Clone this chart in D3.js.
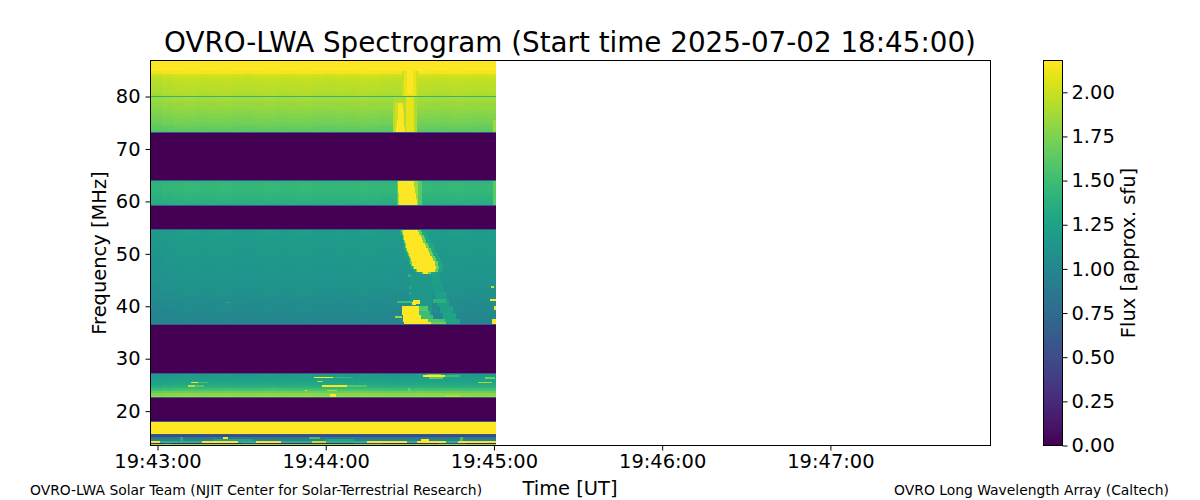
<!DOCTYPE html>
<html><head><meta charset="utf-8">
<script src="https://cdn.jsdelivr.net/npm/d3@7/dist/d3.min.js"></script>
<style>html,body{margin:0;background:#fff}svg{display:block}text{font-family:"DejaVu Sans";fill:#000}
.domain{display:none}</style></head><body><svg id="c" width="1200" height="500"></svg>
<script>
// ---------- data (MHz, seconds after 19:43:00, flux in sfu) ----------
const titleText = "OVRO-LWA Spectrogram (Start time 2025-07-02 18:45:00)";
const xTickSeconds = [0, 60, 120, 180, 240];
const xTickLabels = ["19:43:00","19:44:00","19:45:00","19:46:00","19:47:00"];
const yTicks = [20,30,40,50,60,70,80];
const cbTicks = [0,0.25,0.5,0.75,1,1.25,1.5,1.75,2];
const timeRange = [-2.5, 297.1];
const freqRange = [13.45, 86.87];
const imageTimeEnd = 120.7;
const fluxMax = 2.18;

// [top MHz, bottom MHz, flux per row from top to bottom]
const bandA = [86.87, 73.13, [2.2,2.2,2.2,2.2,2.14,2.03,1.99,1.97,1.96,1.95,1.94,1.93,1.91,1.89,1.88,1.86,1.84,1.83,1.81,1.79,1.77,1.75,1.73,1.71,1.68,1.65,1.62]];
const bandB = [63.97, 59.29, [1.42,1.44,1.45,1.45,1.44,1.42,1.41,1.4,1.38,1.36]];
const bandC = [54.62, 36.5, [1.2,1.2,1.19,1.19,1.18,1.18,1.17,1.17,1.16,1.16,1.15,1.15,1.14,1.14,1.13,1.13,1.12,1.11,1.1,1.09,1.08,1.07,1.06,1.05,1.04,1.03,1.02,1.01,1,0.99]];
const bandLow = [27.2, 22.6, [1.2,1.2,1.22,1.24,1.27,1.3,1.36,1.45,1.55,1.68,1.8,1.88]];
const bandYellow = [18.0, 15.63, [2.2]];
const bandBottom = [
  [15.63,14.98,0.48],[14.98,14.64,0.88],[14.64,14.35,0.98],[14.35,14.02,1.4],[14.02,13.74,0.22],[13.74,13.45,1.85]
];
// slow changes of the quiet sun through the 30 time columns
const timeTrim = [-.03,-.01,.005,.01,0,.005,.01,0,-.005,.005,.01,0,.005,.01,0,-.005,.005,0,.01,.005,-.005,-.01,-.005,.01,.005,0,.01,.005,0,.005];
// narrow RFI line and band edges
const rfiLine = [[80.18,79.98,1.42]];
const bandEdges = [73.13,63.97,59.29,54.62,36.5,27.2,22.6,18.0,15.63];

// patches: [top MHz, bottom MHz, t start, t end, flux]
const burstHigh = [
 [84.9,80.1,87.3,93,2.0],[84.9,80.1,88,92.2,2.1],[85.2,80.5,88.9,91.1,2.2],
 [80,73.13,84.0,92.4,1.92],[78.7,73.13,84.6,87.9,2.02],[80,73.13,88.8,91.6,2.1],
 [78.7,78.28,85.6,87.1,2.2],[78.28,76.95,85.6,87.5,2.2],[76.95,75.61,85.8,87.9,2.2],[75.61,74.27,85.4,88.0,2.2],[74.27,73.13,85,88.2,2.2],
 [75.5,73.13,119.6,120.7,1.85]
];
const burstMid = [
 [63.97,59.29,85.3,94.3,1.62],[63.97,59.29,85.6,93,1.85],
 [63.97,62.82,85.9,91.4,2.2],[62.82,61.68,85.9,91.8,2.2],[61.68,60.53,86,92.1,2.2],[60.53,59.29,86.3,92.5,2.2],
 [63.97,59.29,119.6,120.7,1.62]
];
// [top MHz, t start, t end] each row 0.5 MHz tall
const burstDrift = [
 [54.62,87.4,92.9],[54.12,87.5,93.2],[53.62,87.8,93.8],[53.12,88,94.3],[52.62,88.3,94.8],[52.12,88.6,95.5],
 [51.62,88.75,95.9],[51.12,88.9,96.3],[50.62,89.3,96.8],[50.12,89.6,97.3],[49.62,90,97.9],[49.12,90.4,98.2],
 [48.62,90.6,98.8],[48.12,90.9,99.1],[47.62,91.4,99.3],[47.12,92.5,98.8],[46.62,94.6,96.4]
];
const burstTail = [
 [46.79,45.46,96.4,100.7,1.22],[45.46,44.12,97.1,101.1,1.22],[44.12,42.79,98.2,102.1,1.2],[42.79,41.45,98.9,103.2,1.22],
 [41.45,40.11,99.6,103.9,1.24],[40.11,38.78,100.7,105.4,1.24],[38.78,37.6,101.8,106.4,1.26],[37.6,36.5,102.5,107.9,1.28],
 [46,38,90,98,1.16],
 [41.3,40.6,98.2,103,1.4],[37.6,36.5,96,102.5,1.55],
];
const burstBlob = [
 [39.98,39.16,92.9,96.4,1.6],[39.16,38.4,92.9,97.1,1.5],[38.4,37.63,93.6,98.1,1.5],[37.63,37.06,95.4,100.5,1.6],[37.06,36.5,96.4,103,1.7],
 [39.98,39.16,87.1,93.4,2.2],[39.16,38.4,87.3,93.4,2.2],[38.4,37.63,87.5,93.9,2.2],[37.63,37.06,87.7,96.4,2.2],[37.06,36.5,87.9,97.4,2.2],
 [41.26,40.5,91.3,93.6,2.2],[40.75,40.31,90.7,92.2,2.2],[41.1,40.7,85.4,90.7,1.5],[38.2,37.8,84.6,87.1,1.85],
 [46.2,45.6,89.3,90.4,1.4],[43.9,43.3,89.8,90.6,1.32],[42.7,42.2,89.6,90.4,1.32],
 [43.9,43.4,118.9,120,2.0],[41.45,41.05,118.6,120.7,2.2],[40.1,39.2,120,120.7,2.2],[37.6,36.5,119.3,120.7,2.2],[40.9,40.7,24,26,1.3]
];
const streaks = [
 [25.65,25.35,14.3,17.9,1.55],[25.65,25.35,11.8,14.3,2.15],[24.98,24.7,13.2,16.5,1.6],[24.98,24.7,10.7,13.2,1.95],
 [26.58,26.3,62.5,69.6,1.45],[26.58,26.3,55.7,62.5,2.2],[25.78,25.52,56.8,58.9,2.0],
 [24.98,24.7,67.5,74.6,1.6],[24.98,24.7,58.6,67.5,2.2],[24.05,23.8,60.4,63.9,1.9],[23.3,22.75,61.4,63.6,2.2],
 [26.9,26.55,102.5,107.9,1.5],[26.9,26.55,94.6,102.5,2.2],[27.1,26.9,96,101,1.7],[26.55,26.2,97,102,1.65],
 [26.45,26.15,116.8,120.4,1.7],[25.62,25.36,114.3,119.3,1.9],[24.05,23.85,52.5,53.2,2.2],
 [23.1,22.7,102.5,107.9,1.95],[24.4,23.9,89.3,90,1.7],[24.4,23.9,41.5,42.2,1.55]
];
const bottomPatches = [
 [14.35,14.02,16,28.6,2.2],[14.35,14.02,35,44,2.2],[14.35,14.02,55,60,2.0],[14.35,14.02,74.6,89,2.2],[14.35,14.02,92.5,103,2.2],[14.35,14.02,107,120.7,2.2],
 [14.35,14.02,-2.5,1,2.2],
 [14.98,14.64,23.3,25,2.2],[14.64,14.35,94,97,2.2],[14.98,14.64,54,58,1.5],[14.64,14.35,20,34,1.25],[14.64,14.35,60,70,1.25],
 [14.98,14.35,108,109,1.5],[14.98,14.35,8,9,1.3],[14.02,13.74,2,5,0.45],[14.02,13.74,30,36,0.4],[14.02,13.74,70,80,0.4],[14.02,13.74,100,110,0.45]
];

// ---------- scales ----------
const base = Date.UTC(2025,6,2,19,43,0);
const toDate = s => new Date(base + s*1000);
const X = d3.scaleUtc().domain(timeRange.map(toDate)).range([150.5,990.5]);
const Y = d3.scaleLinear().domain(freqRange).range([445.5,60.5]);
const color = d3.scaleSequential(d3.interpolateViridis).domain([0,fluxMax]).clamp(true);
const svg = d3.select("#c");
const img = svg.append("g").attr("shape-rendering","crispEdges");

function patches(list){
  img.append("g").selectAll("rect").data(list).join("rect")
   .attr("x",d=>X(toDate(d[2]))).attr("width",d=>X(toDate(d[3]))-X(toDate(d[2])))
   .attr("y",d=>Y(d[0])).attr("height",d=>Y(d[1])-Y(d[0]))
   .attr("fill",d=>color(d[4]));
}
function band(b, trimmed){
  const [top,bot,vals]=b, rows=[];
  const dfRow=(top-bot)/vals.length, n=timeTrim.length, dt=(imageTimeEnd-timeRange[0])/n;
  vals.forEach((v,i)=>{
    const f0=top-i*dfRow,f1=f0-dfRow;
    if(!trimmed){rows.push([f0,f1,timeRange[0],imageTimeEnd,v]);return;}
    timeTrim.forEach((tr,j)=>rows.push([f0,f1,timeRange[0]+j*dt,timeRange[0]+(j+1)*dt,v+tr]));
  });
  patches(rows);
}
const full = a => a.map(r=>[r[0],r[1],timeRange[0],imageTimeEnd,r[2]]);
patches([[freqRange[1],freqRange[0],timeRange[0],imageTimeEnd,0]]);
band(bandA,true);band(bandB,true);band(bandC,true);band(bandLow,true);band(bandYellow,false);
patches(full(bandBottom));
patches(burstHigh);patches(burstMid);
patches(burstTail);
patches(burstDrift.map(r=>[r[0],r[0]-0.5,r[1]-0.9,r[2]+2.6,1.3]));
patches(burstDrift.map(r=>[r[0],r[0]-0.5,r[1]-0.4,r[2]+1.1,1.7]));
patches(burstDrift.map(r=>[r[0],r[0]-0.5,r[1],r[2],2.2]));
patches(burstBlob);patches(streaks);patches(bottomPatches);
patches(full(rfiLine));
patches(full(bandEdges.map(f=>[f+0.1,f-0.1,0.6])));

// ---------- frame and axes ----------
svg.append("rect").attr("x",150.5).attr("y",60.5).attr("width",840).attr("height",385).attr("fill","none").attr("stroke","#000");
const xAxis = d3.axisBottom(X).tickValues(xTickSeconds.map(toDate)).tickFormat((d,i)=>xTickLabels[i]).tickSize(5).tickPadding(4);
const gx = svg.append("g").attr("transform","translate(0,445.5)").call(xAxis);
gx.selectAll("text").style("font-size","19.44px").style("font-family","DejaVu Sans");
const yAxis = d3.axisLeft(Y).tickValues(yTicks).tickSize(5).tickPadding(5);
const gy = svg.append("g").attr("transform","translate(150.5,0)").call(yAxis);
gy.selectAll("text").style("font-size","19.44px").style("font-family","DejaVu Sans");

// ---------- colour bar ----------
const cbY = d3.scaleLinear().domain([0,fluxMax]).range([445.5,60.5]);
const cbLevels = d3.range(0,256).map(i=>i/256*fluxMax);
svg.append("g").attr("shape-rendering","crispEdges").selectAll("rect").data(cbLevels).join("rect")
  .attr("x",1043.5).attr("width",19).attr("y",d=>cbY(d+fluxMax/256)).attr("height",d=>cbY(d)-cbY(d+fluxMax/256)+0.5)
  .attr("fill",d=>color(d));
svg.append("rect").attr("x",1043.5).attr("y",60.5).attr("width",19).attr("height",385).attr("fill","none").attr("stroke","#000");
const cbAxis = d3.axisRight(cbY).tickValues(cbTicks).tickFormat(d3.format(".2f")).tickSize(5).tickPadding(4);
const gc = svg.append("g").attr("transform","translate(1062.5,0)").call(cbAxis);
gc.selectAll("text").style("font-size","19.44px").style("font-family","DejaVu Sans");

// ---------- text ----------
const label=(t,x,y,size,anchor,rot)=>svg.append("text").text(t).attr("x",x).attr("y",y).attr("font-size",size)
  .attr("text-anchor",anchor).attr("transform",rot?`rotate(-90,${x},${y})`:null);
label(titleText,570,52,27.78,"middle");
label("Time [UT]",570,495,19.44,"middle");
label("Frequency [MHz]",106,253,19.44,"middle",true);
label("Flux [approx. sfu]",1135,253,19.44,"middle",true);
label("OVRO-LWA Solar Team (NJIT Center for Solar-Terrestrial Research)",30,495,13.89,"start");
label("OVRO Long Wavelength Array (Caltech)",1169,495,13.89,"end");
</script></body></html>
